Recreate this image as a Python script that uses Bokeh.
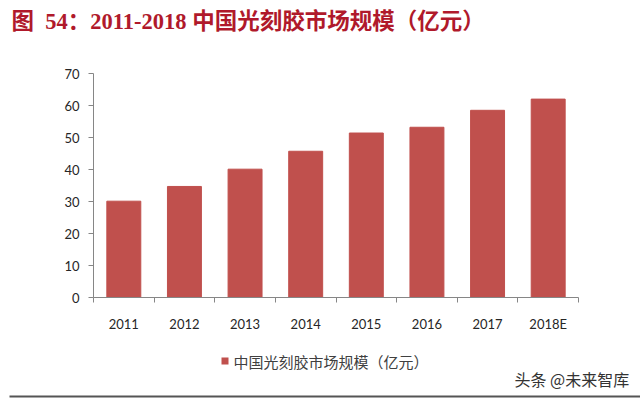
from bokeh.plotting import figure
from bokeh.layouts import column
from bokeh.models import (Range1d, LinearAxis, FixedTicker, ColumnDataSource, Label, BoxAnnotation)
from bokeh.embed import file_html
from bokeh.resources import INLINE

# ---- data ----
years = ["2011", "2012", "2013", "2014", "2015", "2016", "2017", "2018E"]
market_size = [30.1, 34.7, 40.1, 45.7, 51.4, 53.2, 58.5, 62.0]
y_ticks = [0, 10, 20, 30, 40, 50, 60, 70]
series_name = "中国光刻胶市场规模（亿元）"
title_prefix = "图"
title_text = "54：2011-2018 中国光刻胶市场规模（亿元）"
watermark = "头条 @未来智库"

BAR = "#C0504D"
AXIS = "#868686"
RED = "#b0192b"

W = 640
H0, H1, H2 = 42, 298, 58          # header strip, chart, footer strip
ML, MT = 93, 73 - H0
MR = W - 578
MB = H0 + H1 - 297
Y_MAX = 70
N = len(years)


def strip(height):
    s = figure(width=W, height=height, x_range=Range1d(0, W), y_range=Range1d(0, height),
               x_axis_location=None, y_axis_location=None, title=None,
               output_backend="svg", toolbar_location=None, min_border=0)
    s.outline_line_color = None
    s.grid.visible = False
    s.background_fill_color = "white"
    s.border_fill_color = "white"
    if "frame_align" in s.properties():
        s.frame_align = False
    return s


# ---- header: title ----
h = strip(H0)
h.add_layout(Label(x=11, y=H0 - 21, text=title_prefix + "\u00a0\u00a0" + title_text,
                   text_font="'Liberation Serif', 'Noto Sans CJK SC'", text_font_style="bold",
                   text_font_size="22.5px", text_color=RED, text_baseline="middle"))

# ---- chart ----
centres = [i + 0.5 for i in range(N)]
edges = list(range(N + 1))
src = ColumnDataSource(dict(x=centres, year=years, top=market_size))

p = figure(width=W, height=H1, x_range=Range1d(0, N), y_range=Range1d(0, Y_MAX),
           x_axis_location=None, title=None, output_backend="svg", toolbar_location=None,
           min_border_left=ML, min_border_right=MR, min_border_top=MT, min_border_bottom=MB)
p.outline_line_color = None
p.grid.visible = False
p.background_fill_color = "white"
p.border_fill_color = "white"
if "frame_align" in p.properties():
    p.frame_align = False

p.vbar(x="x", top="top", source=src, width=0.56, fill_color=BAR, line_color=BAR)

ya = p.yaxis[0]
ya.ticker = FixedTicker(ticks=y_ticks)
ya.axis_line_color = AXIS
ya.major_tick_line_color = AXIS
ya.major_tick_out = 5
ya.major_tick_in = 0
ya.minor_tick_line_color = None
ya.major_label_standoff = 9
ya.major_label_text_font = "Lato"
ya.major_label_text_font_size = "13px"
ya.major_label_text_color = "#262626"

# x axis: labels at category centres, ticks at category edges
xa = LinearAxis(ticker=FixedTicker(ticks=centres, minor_ticks=edges),
                major_label_overrides={c: yv for c, yv in zip(centres, years)})
xa.axis_line_color = AXIS
xa.major_tick_line_color = None
xa.major_tick_out = 0
xa.major_tick_in = 0
xa.minor_tick_line_color = AXIS
xa.minor_tick_out = 5
xa.minor_tick_in = 0
xa.major_label_standoff = 13
xa.major_label_text_font = "Lato"
xa.major_label_text_font_size = "13px"
xa.major_label_text_color = "#262626"
p.add_layout(xa, "below")

# ---- footer: legend key, watermark, rule ----
f = strip(H2)
f.add_layout(BoxAnnotation(left=221, right=228, bottom=34, top=41,
                           fill_color=BAR, fill_alpha=1, line_color=None))
f.add_layout(Label(x=233, y=37, text=series_name, text_font="Noto Sans CJK SC",
                   text_font_size="15px", text_color="#404040", text_baseline="middle"))
f.add_layout(Label(x=514, y=20, text=watermark, text_font="Noto Sans CJK SC",
                   text_font_size="16px", text_color="#333333", text_baseline="middle"))
f.add_layout(BoxAnnotation(left=9, right=W, bottom=1, top=3,
                           fill_color="#555555", fill_alpha=1, line_color=None))

open("out.html", "w").write(file_html(column(h, p, f), INLINE))
